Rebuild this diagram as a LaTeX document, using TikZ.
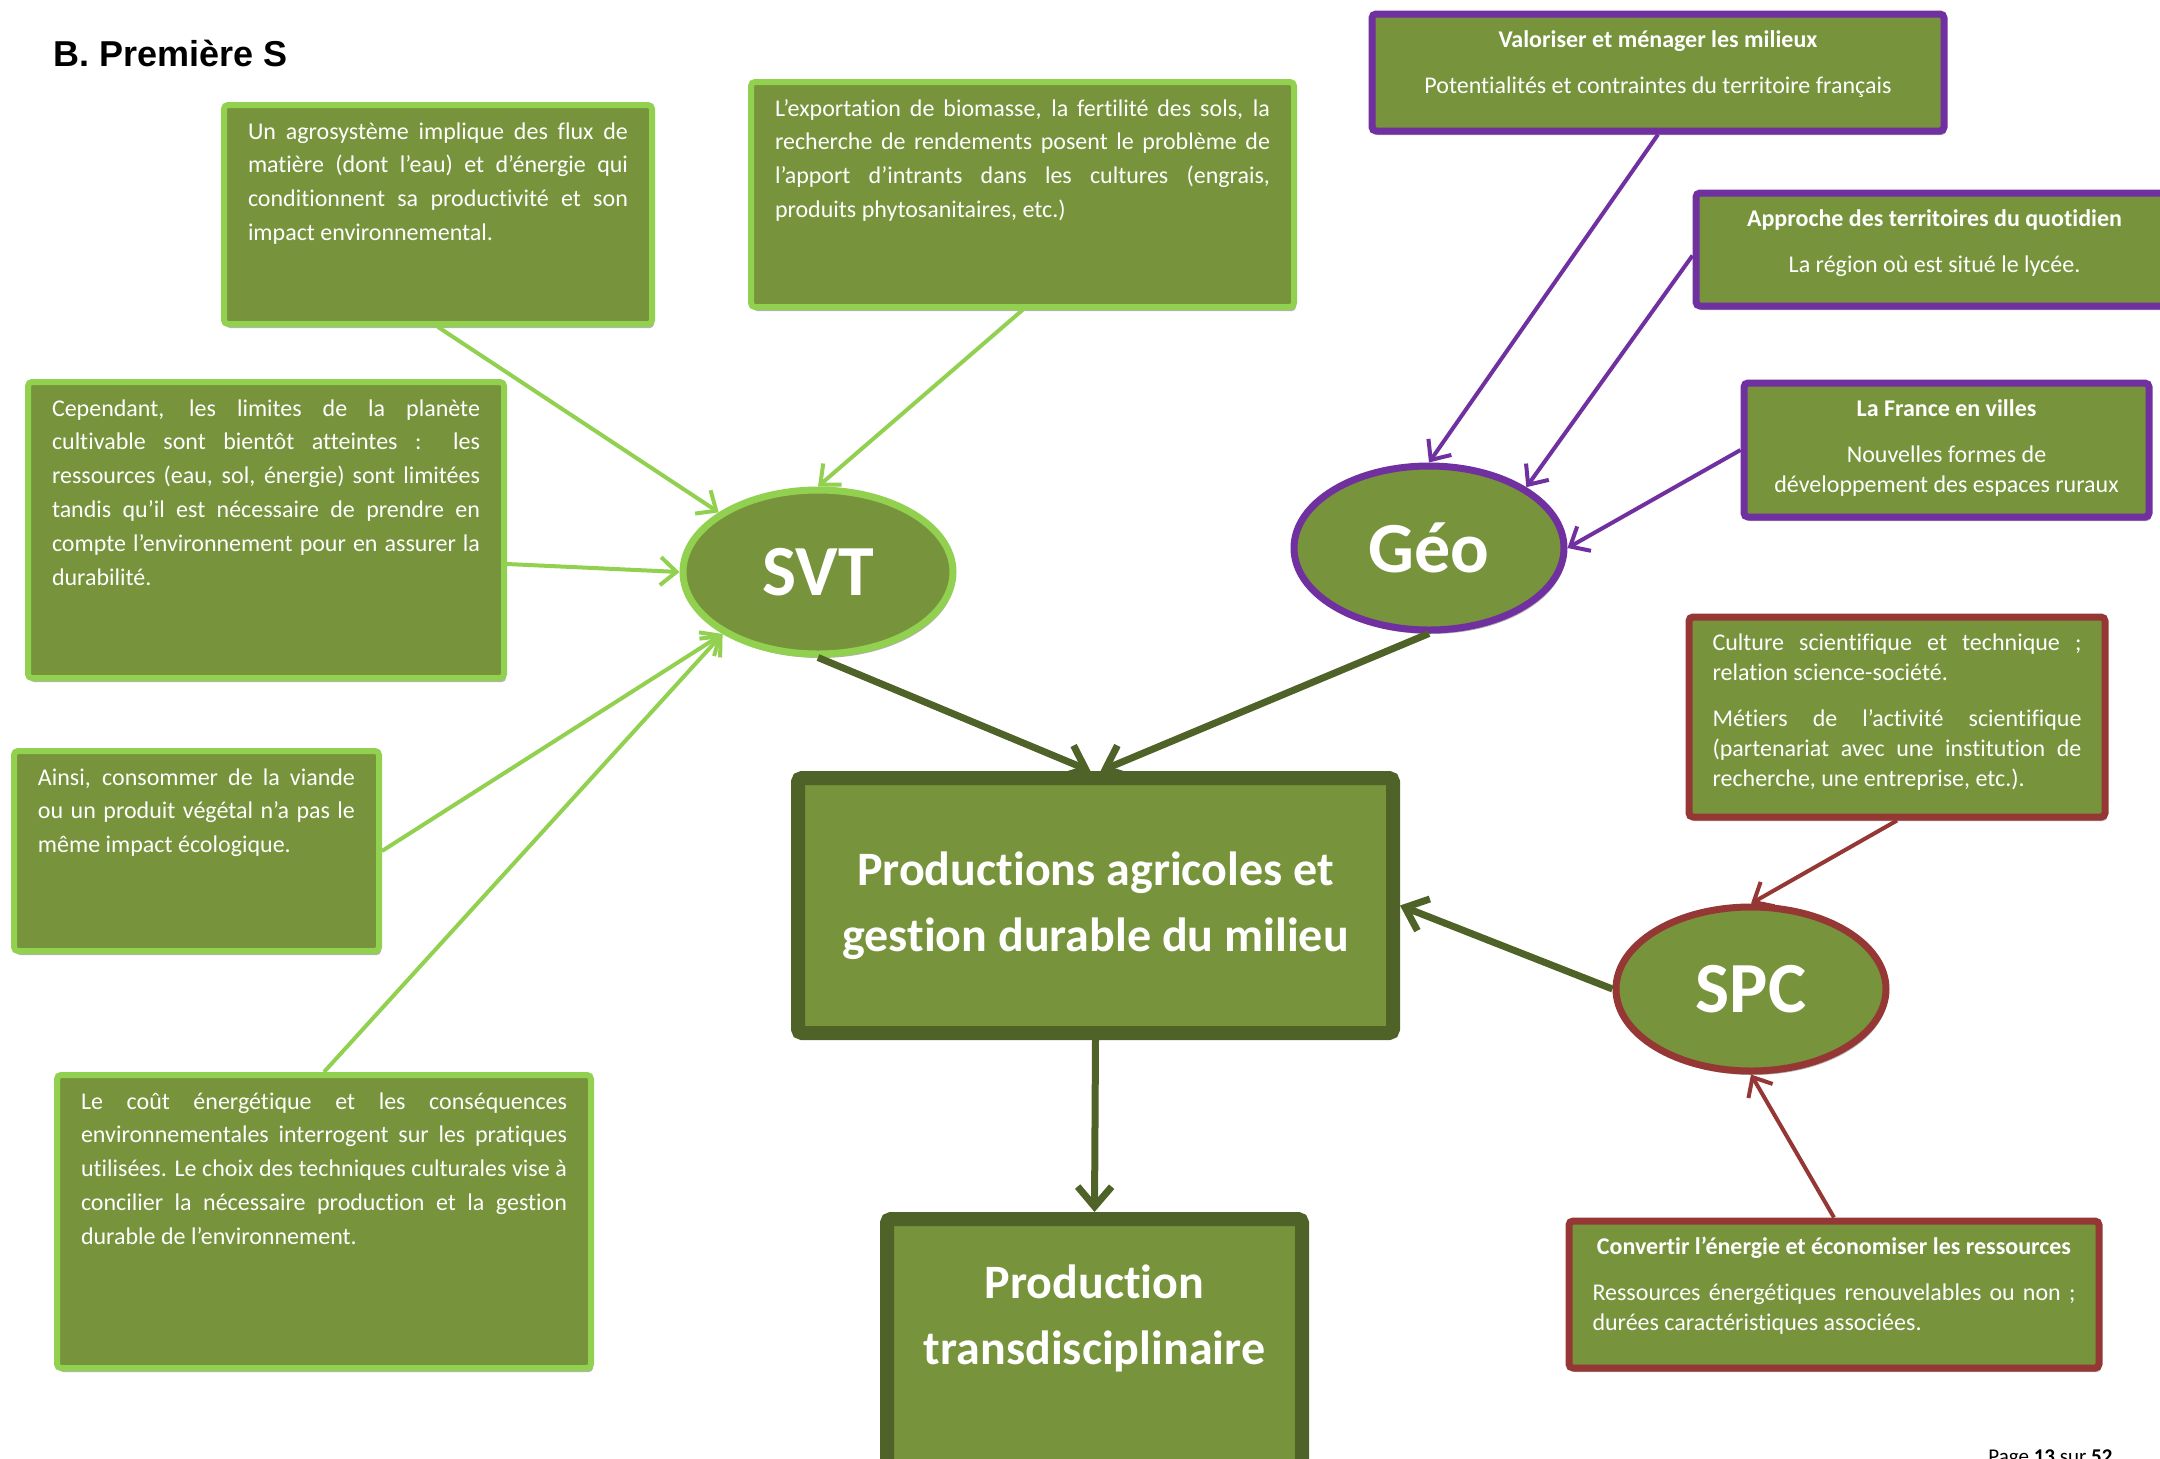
\documentclass[tikz,border=0pt]{standalone}
\usepackage{fontspec}
\setmainfont{Carlito}[Ligatures={TeX,NoCommon}]
\newfontfamily\titlefont{Liberation Sans}
\usetikzlibrary{arrows.meta,shapes.geometric,shadows,calc}
\definecolor{olv}{HTML}{77933C}
\definecolor{lgr}{HTML}{92D050}
\definecolor{prp}{HTML}{7030A0}
\definecolor{drd}{HTML}{953735}
\definecolor{dgr}{HTML}{4F6228}
\newcommand\gtxt{\fontsize{12}{16.9}\selectfont\tolerance=10000\hyphenpenalty=10000\relax}
\newcommand\ptxt{\fontsize{12}{15}\selectfont\setlength{\parskip}{8pt}\tolerance=10000\hyphenpenalty=10000\relax}
\newcommand\fst{\rule{0pt}{11pt}}
\begin{document}
\begin{tikzpicture}[x=0.5pt,y=-0.5pt,
  shd/.style={drop shadow={shadow xshift=1pt,shadow yshift=-2pt,opacity=0.3,fill=black}},
  tbox/.style={shd,draw,fill=olv,text=white,rounded corners=2pt,anchor=north west},
  gbox/.style={tbox,draw=lgr,line width=3pt,inner xsep=12pt,inner ysep=6pt,xshift=1.5pt,yshift=-1.5pt},
  pbox/.style={tbox,draw=prp,line width=3.5pt,inner xsep=11.75pt,inner ysep=5.75pt,xshift=1.75pt,yshift=-1.75pt},
  rbox/.style={tbox,draw=drd,line width=3.5pt,inner xsep=11.75pt,inner ysep=5.75pt,xshift=1.75pt,yshift=-1.75pt},
  bubble/.style={shd,ellipse,fill=olv,text=white,minimum width=135pt,minimum height=82pt,inner sep=0pt,line width=3.5pt,font=\fontsize{36}{40}\selectfont\bfseries},
  mbox/.style={shd,draw=dgr,fill=olv,text=white,line width=7pt,rounded corners=2pt,font=\fontsize{24}{33}\selectfont\bfseries,inner sep=0pt},
  conn/.style={line width=2pt,-{Straight Barb[length=8pt,width=14pt]}},
  garrow/.style={conn,draw=lgr},
  parrow/.style={conn,draw=prp},
  rarrow/.style={conn,draw=drd},
  darrow/.style={line width=3.5pt,draw=dgr,-{Straight Barb[length=10pt,width=17pt]}}
]
\useasboundingbox (0,0) rectangle (2160,1458);
\clip (0,0) rectangle (2160,1458);

% title
\node[anchor=base west,inner sep=0pt] (title) at (53,66) {\titlefont\bfseries\fontsize{18}{20}\selectfont B. Première S};

% SVT side boxes
\node[gbox] (agro) at (218,99) {\parbox[t][97.5pt][t]{190pt}{\gtxt\fst Un agrosystème implique des flux de\linebreak matière (dont l’eau) et d’énergie qui\linebreak conditionnent sa productivité et son\linebreak impact environnemental.}};
\node[gbox] (export) at (745,76) {\parbox[t][100.5pt][t]{247.5pt}{\gtxt\fst L’exportation de biomasse, la fertilité des sols, la\linebreak recherche de rendements posent le problème de\linebreak l’apport d’intrants dans les cultures (engrais,\linebreak produits phytosanitaires, etc.)}};
\node[gbox] (cepend) at (22,376) {\parbox[t][136pt][t]{214pt}{\gtxt\fst Cependant, les limites de la planète\linebreak cultivable sont bientôt atteintes : les\linebreak ressources (eau, sol, énergie) sont limitées\linebreak tandis qu’il est nécessaire de prendre en\linebreak compte l’environnement pour en assurer la\linebreak durabilité.}};
\node[gbox] (ainsi) at (8,745) {\parbox[t][88pt][t]{158.5pt}{\gtxt\fst Ainsi, consommer de la viande\linebreak ou un produit végétal n’a pas le\linebreak même impact écologique.}};
\node[gbox] (cout) at (51,1069) {\parbox[t][134.5pt][t]{243pt}{\gtxt\fst Le coût énergétique et les conséquences\linebreak environnementales interrogent sur les pratiques\linebreak utilisées. Le choix des techniques culturales vise à\linebreak concilier la nécessaire production et la gestion\linebreak durable de l’environnement.}};

% Geo side boxes
\node[pbox] (valor) at (1365,7) {\parbox[t][47pt][t]{262.5pt}{\ptxt\centering\fst\textbf{Valoriser et ménager les milieux}\par Potentialités et contraintes du territoire français}};
\node[pbox] (appro) at (1689,186) {\parbox[t][45pt][t]{215pt}{\ptxt\centering\fst\textbf{Approche des territoires du quotidien}\par La région où est situé le lycée.}};
\node[pbox] (france) at (1737,376) {\parbox[t][55.5pt][t]{179pt}{\ptxt\centering\fst\textbf{La France en villes}\par Nouvelles formes de\\développement des espaces ruraux}};

% SPC side boxes
\node[rbox] (cult) at (1682,610) {\parbox[t][88.5pt][t]{184.5pt}{\ptxt\fst Culture scientifique et technique ;\linebreak relation science-société.\par Métiers de l’activité scientifique\linebreak (partenariat avec une institution de\linebreak recherche, une entreprise, etc.).}};
\node[rbox] (conv) at (1562,1214) {\parbox[t][62pt][t]{241.5pt}{\ptxt{\centering\fst\textbf{Convertir l’énergie et économiser les ressources}\par}Ressources énergétiques renouvelables ou non ;\linebreak durées caractéristiques associées.}};

% bubbles
\node[bubble,draw=lgr] (svt) at (818,572) {SVT};
\node[bubble,draw=prp] (geo) at (1429,548) {Géo};
\node[bubble,draw=drd] (spc) at (1751,989) {SPC};

% central boxes
\node[mbox,minimum width=297.5pt,minimum height=127.5pt] (prod) at (1095.5,905.5) {\parbox{290pt}{\centering Productions agricoles et\\gestion durable du milieu}};
\node[mbox,anchor=north,minimum width=207.5pt,minimum height=150pt] (trans) at (1094.5,1212) {\parbox[t][140pt][t]{200pt}{\centering\rule{0pt}{34.5pt}Production\\transdisciplinaire}};

% footer
\node[anchor=base west,inner sep=0pt] (page) at (1988,1463) {\fontsize{10.5}{12}\selectfont Page \textbf{13} sur \textbf{52}};

% connectors
\draw[garrow] (agro.south) -- (svt.149);
\draw[garrow] (export.south) -- (svt.north);
\draw[garrow] ($(cepend.east)+(0,34)$) -- (svt.west);
\draw[garrow] (ainsi.east) -- (svt.213);
\draw[garrow] (cout.north) -- (svt.213);

\draw[parrow] (valor.south) -- (geo.north);
\draw[parrow] ($(appro.west)+(0,6)$) -- (geo.32);
\draw[parrow] (france.west) -- (geo.east);

\draw[rarrow] (cult.south) -- (spc.north);
\draw[rarrow] (conv.north) -- (spc.south);

\draw[darrow] (svt.south) -- ($(prod.north)+(-5,0)$);
\draw[darrow] (geo.south) -- ($(prod.north)+(5,0)$);
\draw[darrow] (spc.west) -- (prod.east);
\draw[darrow] (prod.south) -- (trans.north);
\end{tikzpicture}
\end{document}
